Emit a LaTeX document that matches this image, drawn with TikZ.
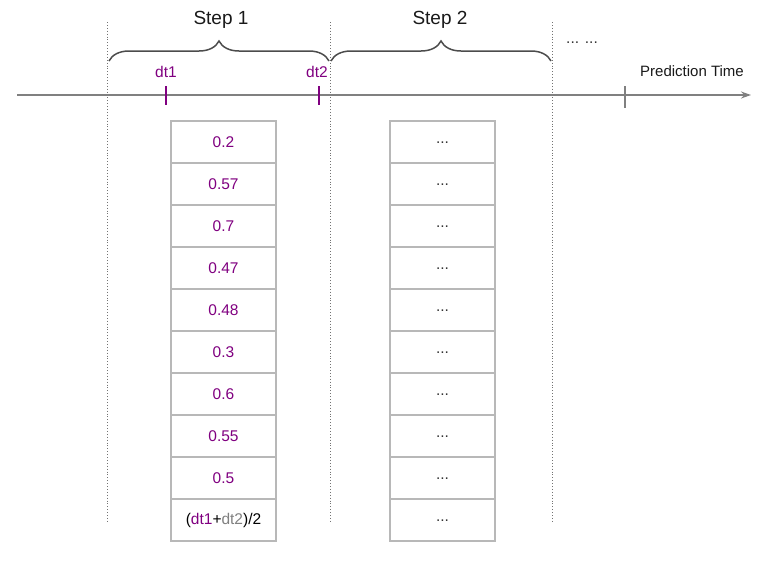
\documentclass[tikz,border=0pt]{standalone}
\usepackage{fontspec}
\setmainfont{Liberation Sans}
\usetikzlibrary{decorations.pathreplacing,arrows.meta}
\definecolor{purp}{HTML}{800080}
\definecolor{cellgray}{HTML}{B8B8B8}
\definecolor{axisgray}{HTML}{808080}
\begin{document}
\begin{tikzpicture}[x=1pt,y=-1pt,
  cell/.style={draw=cellgray,line width=1.1pt,minimum width=105pt,minimum height=42pt,inner sep=0pt,font=\fontsize{15.5}{18}\selectfont},
  val/.style={text=purp},
  dots/.style={text=black!80},
  vline/.style={draw=black!55,dotted,line width=0.9pt},
  brc/.style={draw=black!70,line width=1.5pt,decorate,decoration={brace,amplitude=20pt}},
  steplab/.style={font=\fontsize{19}{22}\selectfont,text=black!90},
  lbl/.style={font=\fontsize{15.5}{18}\selectfont}]
\useasboundingbox (0,0) rectangle (767,560);
% vertical dotted lines
\coordinate (v1t) at (107,22); \coordinate (v1b) at (107,522);
\coordinate (v2t) at (330,22); \coordinate (v2b) at (330,522);
\coordinate (v3t) at (552,22); \coordinate (v3b) at (552,522);
\draw[vline] (v1t) -- (v1b);
\draw[vline] (v2t) -- (v2b);
\draw[vline] (v3t) -- (v3b);
% axis
\coordinate (a0) at (17,95); \coordinate (a1) at (751,95);
\draw[axisgray,line width=1.5pt,-{Stealth[length=10pt,width=7pt]}] (a0) -- (a1);
% braces
\coordinate (b1l) at (109,61); \coordinate (b1r) at (329,61);
\coordinate (b2l) at (331,61); \coordinate (b2r) at (551,61);
\draw[brc] (b1l) -- (b1r);
\draw[brc] (b2l) -- (b2r);
\node[steplab] (s1) at (221,20) {Step 1};
\node[steplab] (s2) at (440,20) {Step 2};
\node[lbl,text=black!80] (more) at (582,43) {... ...};
% ticks
\coordinate (t1a) at (166,86); \coordinate (t1b) at (166,105);
\coordinate (t2a) at (319,86); \coordinate (t2b) at (319,105);
\coordinate (t3a) at (625,86); \coordinate (t3b) at (625,108);
\draw[purp,line width=1.8pt] (t1a) -- (t1b);
\draw[purp,line width=1.8pt] (t2a) -- (t2b);
\draw[axisgray,line width=1.5pt] (t3a) -- (t3b);
\node[lbl,text=purp] (dt1) at (166,72) {dt1};
\node[lbl,text=purp] (dt2) at (317,72) {dt2};
\node[lbl,text=black!90,font=\fontsize{15}{18}\selectfont] (pt) at (692,71) {Prediction Time};
% column 1
\foreach [count=\i] \v in {0.2,0.57,0.7,0.47,0.48,0.3,0.6,0.55,0.5}{
  \node[cell,val] (c\i) at (223.5,{121+21+42*(\i-1)}) {\v};
}
\node[cell] (c10) at (223.5,520) {(\textcolor{purp}{dt1}+\textcolor{axisgray}{dt2})/2};
% column 2
\foreach \i in {1,...,10}{
  \node[cell,dots] (d\i) at (442.5,{121+21+42*(\i-1)}) {\raisebox{-2pt}{...}};
}
\end{tikzpicture}
\end{document}
